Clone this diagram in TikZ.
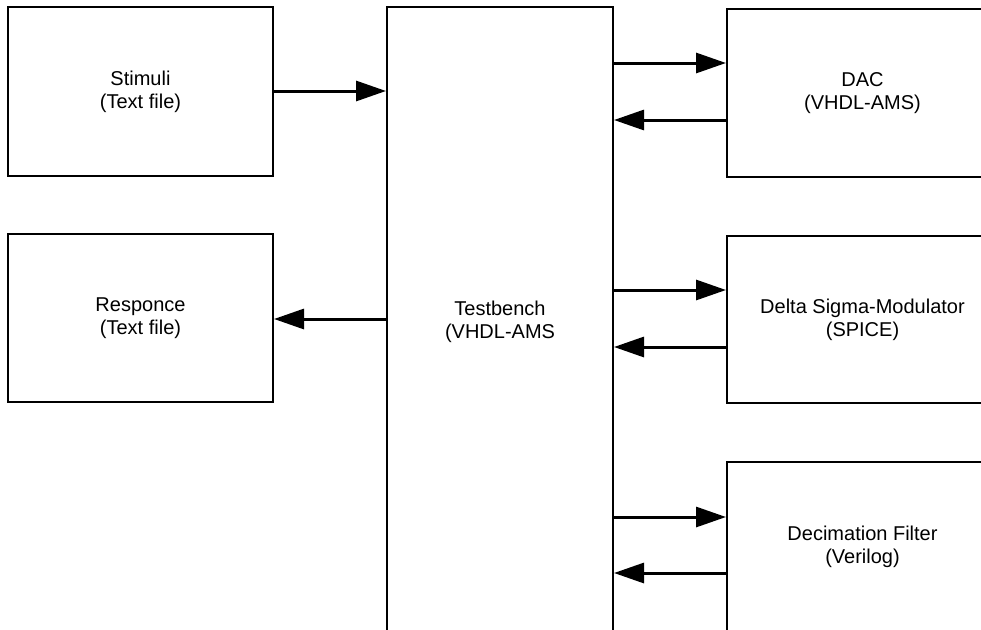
\documentclass[tikz,border=0pt]{standalone}
\usepackage{fontspec}
\setmainfont{Liberation Sans}
\usetikzlibrary{arrows.meta}
\begin{document}
\begin{tikzpicture}[x=1pt,y=-1pt,
  box/.style={draw=black,line width=2pt,fill=white,rectangle,inner sep=0pt,align=center,
    font=\fontsize{20}{23}\selectfont},
  arr/.style={line width=3pt,-{Triangle[length=30pt,width=20pt]}}]
\useasboundingbox (0,0) rectangle (981,629);
\clip (0,0) rectangle (981,629);
\node[box,minimum width=265pt,minimum height=169pt] (stim) at (140.5,91.5) {Stimuli\\(Text file)};
\node[box,minimum width=265pt,minimum height=168pt] (resp) at (140.5,318) {Responce\\(Text file)};
\node[box,minimum width=226pt,minimum height=630pt] (tb) at (500,322) {Testbench\\(VHDL-AMS};
\node[box,minimum width=271pt,minimum height=168pt] (dac) at (862.5,93) {DAC\\(VHDL-AMS)};
\node[box,minimum width=271pt,minimum height=167pt] (dsm) at (862.5,319.5) {Delta Sigma-Modulator\\(SPICE)};
\node[box,minimum width=271pt,minimum height=170pt] (dec) at (862.5,547) {Decimation Filter\\(Verilog)};
\draw[arr] (stim.east |- 0,91) -- (tb.west |- 0,91);
\draw[arr] (tb.west |- 0,319) -- (resp.east |- 0,319);
\draw[arr] (tb.east |- 0,63) -- (dac.west |- 0,63);
\draw[arr] (dac.west |- 0,120) -- (tb.east |- 0,120);
\draw[arr] (tb.east |- 0,290) -- (dsm.west |- 0,290);
\draw[arr] (dsm.west |- 0,347) -- (tb.east |- 0,347);
\draw[arr] (tb.east |- 0,517) -- (dec.west |- 0,517);
\draw[arr] (dec.west |- 0,573) -- (tb.east |- 0,573);
\end{tikzpicture}
\end{document}
